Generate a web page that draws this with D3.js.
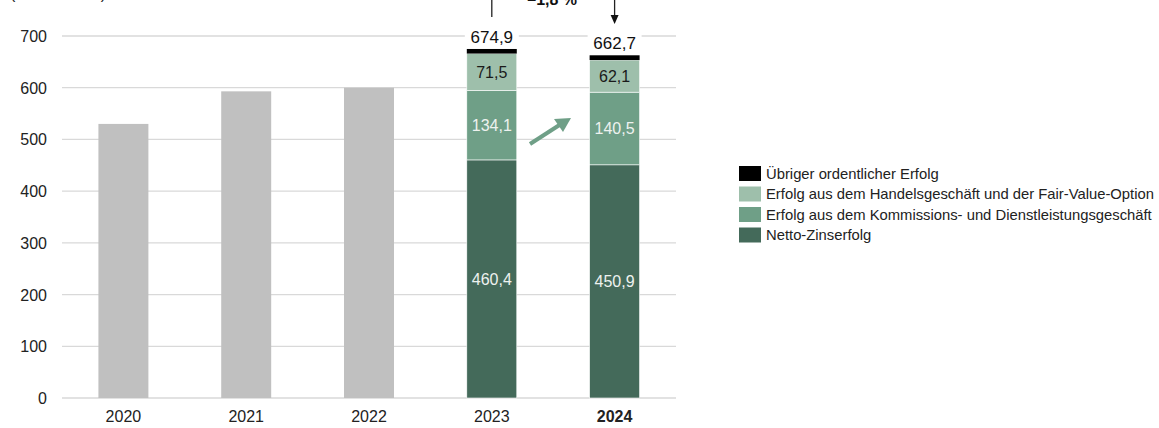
<!DOCTYPE html>
<html><head><meta charset="utf-8">
<script src="https://cdn.jsdelivr.net/npm/d3@7"></script>
<style>body{margin:0;background:#fff}svg{display:block;font-family:"Liberation Sans",Arial,sans-serif}</style>
</head><body><svg id="c" width="1159" height="428"></svg>
<script>
const years = ["2020","2021","2022","2023","2024"];
const totalsGray = [530, 593, 600, null, null];
const netInterest = [null, null, null, 460.4, 450.9];
const commission = [null, null, null, 134.1, 140.5];
const trading = [null, null, null, 71.5, 62.1];
const other = [null, null, null, 8.9, 9.2];
const totalLabels = [null, null, null, "674,9", "662,7"];
const yTicks = [0,100,200,300,400,500,600,700];
const seriesNames = ["Übriger ordentlicher Erfolg","Erfolg aus dem Handelsgeschäft und der Fair-Value-Option","Erfolg aus dem Kommissions- und Dienstleistungsgeschäft","Netto-Zinserfolg"];
const changeLabel = "–1,8 %";
const unitLabel = "(in Mio. EUR)";

const colors = {other:"#000000", trading:"#9ebfab", commission:"#6f9f87", net:"#446a5a", gray:"#c0c0c0"};
const svg = d3.select("#c");
const x = d3.scaleBand().domain(years).range([62,676]).paddingInner(0.593).paddingOuter(0.2965);
const y = d3.scaleLinear().domain([0,700]).range([398,36]);
const fmt = v => d3.format(".1f")(v).replace(".", ",");

// gridlines
svg.append("g").selectAll("line").data(yTicks).join("line")
  .attr("x1",62).attr("x2",676).attr("y1",d=>y(d)).attr("y2",d=>y(d))
  .attr("stroke","#d9d9d9").attr("stroke-width",1.3);
// y labels
svg.append("g").selectAll("text").data(yTicks).join("text")
  .attr("x",47).attr("y",d=>y(d)+6).attr("text-anchor","end")
  .attr("font-size",16).attr("fill","#222").text(d=>d);
// x labels
svg.append("g").selectAll("text").data(years).join("text")
  .attr("x",d=>x(d)+x.bandwidth()/2).attr("y",422).attr("text-anchor","middle")
  .attr("font-size",16).attr("fill","#222").attr("font-weight",(d,i)=>i===4?"bold":"normal").text(d=>d);

// gray bars
svg.append("g").selectAll("rect").data(years.map((yr,i)=>({yr,v:totalsGray[i]})).filter(d=>d.v!=null)).join("rect")
  .attr("x",d=>x(d.yr)).attr("width",x.bandwidth()).attr("y",d=>y(d.v)).attr("height",d=>y(0)-y(d.v))
  .attr("fill",colors.gray);

// stacked bars
const keys = ["net","commission","trading","other"];
const rows = years.map((yr,i)=>({yr, net:netInterest[i], commission:commission[i], trading:trading[i], other:other[i]})).filter(d=>d.net!=null);
const stack = d3.stack().keys(keys)(rows);
const segG = svg.append("g");
stack.forEach(layer=>{
  segG.selectAll(null).data(layer).join("rect")
    .attr("x",d=>x(d.data.yr)).attr("width",x.bandwidth())
    .attr("y",d=>y(d[1])).attr("height",d=>y(d[0])-y(d[1]))
    .attr("fill",colors[layer.key]).attr("stroke","#fff").attr("stroke-width",layer.key==="other"?0:0.6);
  if(layer.key!=="other"){
    segG.selectAll(null).data(layer).join("text")
      .attr("x",d=>x(d.data.yr)+x.bandwidth()/2).attr("y",d=>(y(d[0])+y(d[1]))/2+6)
      .attr("text-anchor","middle").attr("font-size",16)
      .attr("fill",layer.key==="trading"?"#1a1a1a":"#eef2ef")
      .text(d=>fmt(d.data[layer.key]));
  }
});
// total labels with white background
const topLayer = stack[3];
topLayer.forEach((d,i)=>{
  const cx = x(d.data.yr)+x.bandwidth()/2;
  const lbl = totalLabels[years.indexOf(d.data.yr)];
  const by = y(d[1]) - 6;
  svg.append("rect").attr("x",cx-27).attr("y",by-16).attr("width",54).attr("height",18).attr("fill","#fff");
  svg.append("text").attr("x",cx).attr("y",by).attr("text-anchor","middle").attr("font-size",17).attr("fill","#111").text(lbl);
});

// top annotation
const c23 = x("2023")+x.bandwidth()/2, c24 = x("2024")+x.bandwidth()/2;
svg.append("line").attr("x1",c23).attr("x2",c23).attr("y1",0).attr("y2",17).attr("stroke","#222").attr("stroke-width",1.3);
svg.append("line").attr("x1",c24).attr("x2",c24).attr("y1",0).attr("y2",16).attr("stroke","#222").attr("stroke-width",1.3);
svg.append("path").attr("d",`M${c24-4},15 L${c24+4},15 L${c24},24 Z`).attr("fill","#111");
svg.append("text").attr("x",(c23+c24)/2-1).attr("y",5).attr("text-anchor","middle").attr("font-size",16).attr("font-weight","bold").attr("fill","#111").text(changeLabel);
svg.append("text").attr("x",10).attr("y",-1).attr("font-size",16).attr("fill","#222").text(unitLabel);

// green arrow
svg.append("line").attr("x1",530).attr("y1",144).attr("x2",561).attr("y2",124).attr("stroke",colors.commission).attr("stroke-width",4);
svg.append("path").attr("d","M571,118 L554,119 L563,132 Z").attr("fill",colors.commission);

// legend
const lg = svg.append("g").attr("transform","translate(739,166)");
const legendColors = [colors.other, colors.trading, colors.commission, colors.net];
seriesNames.forEach((n,i)=>{
  lg.append("rect").attr("x",0).attr("y",i*20.5).attr("width",22).attr("height",15).attr("fill",legendColors[i]);
  lg.append("text").attr("x",27).attr("y",i*20.5+12.5).attr("font-size",14.8).attr("fill","#222").text(n);
});
</script></body></html>
